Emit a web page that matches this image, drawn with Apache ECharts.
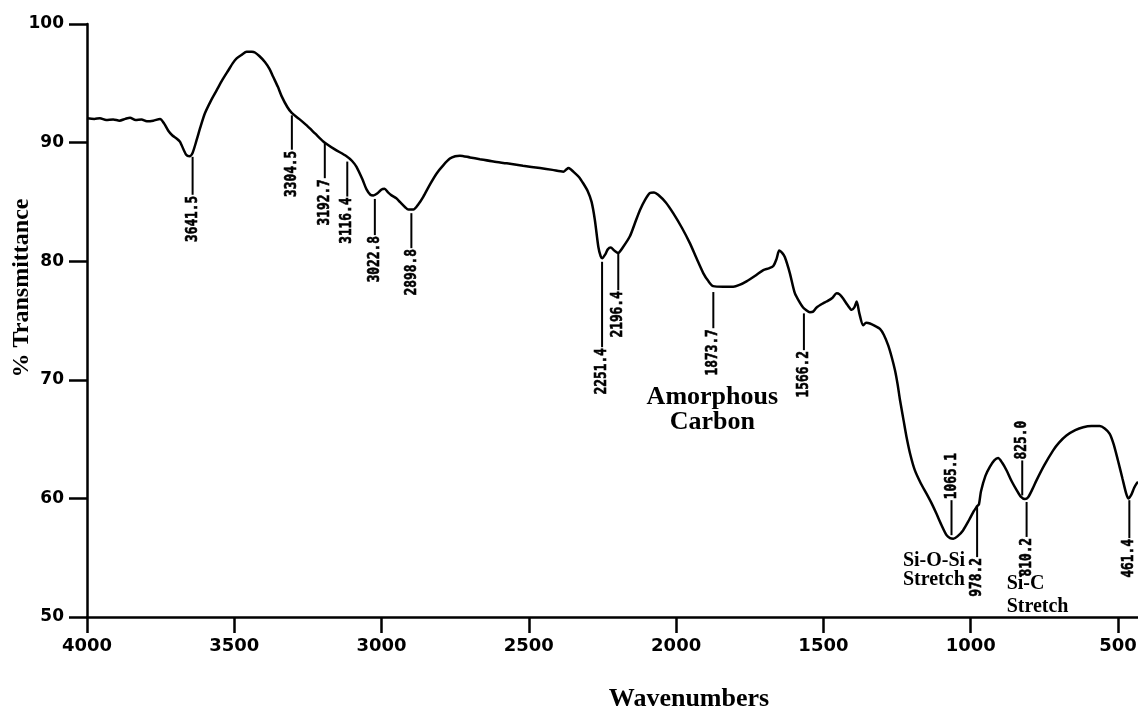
<!DOCTYPE html>
<html>
<head>
<meta charset="utf-8">
<title>FTIR spectrum</title>
<script src="https://cdn.jsdelivr.net/npm/echarts@6/dist/echarts.min.js"></script>
<style>
  html, body { margin: 0; padding: 0; background: #fff; }
  #chart { width: 1138px; height: 715px; }
</style>
</head>
<body>
<div id="chart"></div>
<script>
// Spectrum trace: wavenumber (cm-1) and % transmittance
const wavenumbers = [
  4000, 3975, 3956, 3935, 3911, 3890, 3870, 3854, 3835, 3815, 3797, 3775, 3752, 3738, 3724, 3710,
  3696, 3685, 3679, 3664, 3652, 3642, 3628, 3615, 3600, 3580, 3560, 3540, 3520, 3505, 3492, 3475,
  3458, 3440, 3430, 3415, 3396, 3380, 3368, 3352, 3339, 3320, 3305, 3280, 3254, 3225, 3198, 3160,
  3119, 3100, 3085, 3065, 3051, 3038, 3028, 3015, 3000, 2990, 2978, 2966, 2950, 2938, 2920, 2909,
  2892, 2875, 2858, 2835, 2813, 2790, 2768, 2750, 2734, 2700, 2666, 2620, 2575, 2520, 2462, 2420,
  2383, 2372, 2366, 2358, 2349, 2330, 2315, 2300, 2287, 2276, 2264, 2256, 2251, 2240, 2232, 2222,
  2210, 2197, 2180, 2157, 2140, 2123, 2105, 2089, 2075, 2061, 2035, 2010, 1980, 1953, 1930, 1908,
  1890, 1874, 1840, 1806, 1785, 1761, 1730, 1704, 1685, 1670, 1659, 1650, 1640, 1631, 1614, 1597,
  1580, 1569, 1560, 1546, 1535, 1523, 1501, 1489, 1470, 1455, 1445, 1433, 1418, 1404, 1395, 1387,
  1378, 1365, 1355, 1342, 1325, 1308, 1295, 1280, 1268, 1257, 1248, 1240, 1228, 1218, 1205, 1190,
  1170, 1150, 1133, 1116, 1100, 1082, 1070, 1059, 1045, 1026, 1005, 990, 982, 978, 972, 965,
  950, 935, 920, 907, 893, 878, 860, 844, 830, 816, 805, 790, 777, 750, 720, 700,
  675, 645, 618, 590, 562, 545, 528, 515, 500, 485, 472, 465, 455, 445, 437, 432
];
const transmittance = [
  92.05, 92.0, 92.05, 91.9, 91.95, 91.85, 92.0, 92.1, 91.9, 91.95, 91.8, 91.85, 92.0, 91.6, 91.0, 90.6,
  90.35, 90.1, 89.8, 89.0, 88.85, 89.1, 90.2, 91.3, 92.45, 93.5, 94.4, 95.3, 96.1, 96.7, 97.1, 97.4,
  97.65, 97.65, 97.6, 97.3, 96.8, 96.2, 95.55, 94.7, 93.9, 93.0, 92.5, 92.0, 91.45, 90.75, 90.1, 89.45,
  88.85, 88.45, 87.95, 86.9, 86.05, 85.6, 85.55, 85.7, 86.05, 86.1, 85.8, 85.55, 85.3, 85.0, 84.55, 84.35,
  84.35, 84.8, 85.45, 86.5, 87.4, 88.1, 88.65, 88.85, 88.9, 88.75, 88.6, 88.4, 88.25, 88.05, 87.85, 87.7,
  87.55, 87.75, 87.85, 87.75, 87.55, 87.1, 86.55, 85.9, 85.0, 83.5, 81.2, 80.4, 80.25, 80.6, 81.0, 81.15,
  80.9, 80.7, 81.2, 82.1, 83.2, 84.3, 85.2, 85.75, 85.8, 85.6, 84.95, 84.05, 82.8, 81.5, 80.2, 79.0,
  78.3, 77.9, 77.85, 77.85, 78.0, 78.3, 78.8, 79.25, 79.4, 79.6, 80.2, 80.9, 80.7, 80.35, 79.0, 77.3,
  76.5, 76.1, 75.9, 75.7, 75.75, 76.1, 76.45, 76.6, 76.9, 77.3, 77.2, 76.85, 76.3, 75.9, 76.1, 76.6,
  75.6, 74.6, 74.8, 74.75, 74.55, 74.3, 73.8, 72.9, 71.9, 70.8, 69.6, 68.3, 66.6, 65.2, 63.7, 62.4,
  61.3, 60.4, 59.6, 58.7, 57.8, 56.9, 56.65, 56.6, 56.8, 57.3, 58.2, 58.9, 59.2, 59.35, 59.5, 60.6,
  61.9, 62.65, 63.2, 63.4, 63.0, 62.35, 61.4, 60.7, 60.15, 59.95, 60.1, 60.8, 61.5, 62.8, 64.05, 64.7,
  65.3, 65.75, 66.0, 66.1, 66.1, 65.9, 65.45, 64.6, 63.2, 61.7, 60.4, 60.0, 60.3, 60.9, 61.25, 61.4
];

// Axis ticks
const xTicks = [4000, 3500, 3000, 2500, 2000, 1500, 1000, 500];
const yTicks = [50, 60, 70, 80, 90, 100];

// Picked peaks: position, and the %T span of each marker stick
const peakPositions = [3641.5, 3304.5, 3192.7, 3116.4, 3022.8, 2898.8, 2251.4, 2196.4, 1873.7, 1566.2, 1065.1, 978.2, 825.0, 810.2, 461.4];
const peakStickFrom = [88.8, 92.3, 90.05, 88.4, 85.25, 84.05, 79.95, 80.7, 77.4, 75.6, 56.9, 59.3, 60.25, 59.7, 59.85];
const peakStickTo   = [85.6, 89.4, 87.0, 85.45, 82.2, 81.1, 72.75, 77.55, 74.35, 72.5, 59.85, 55.05, 63.2, 56.75, 56.65];

// Band assignments: text and anchor (wavenumber, %T)
const bandNames = ['Amorphous\nCarbon', 'Si-O-Si\nStretch', 'Si-C\nStretch'];
const bandWavenumber = [1877, 1230, 878];
const bandTransmittance = [67.5, 53.9, 51.85];

const bandStyle = [
  { size: 26, lineHeight: 25, align: 'center' },
  { size: 20, lineHeight: 19, align: 'left' },
  { size: 20, lineHeight: 23, align: 'left' }
];

const chart = echarts.init(document.getElementById('chart'), null, { renderer: 'canvas' });

const axisColor = '#000';
const tickFont = 'DejaVu Sans';

const option = {
  animation: false,
  backgroundColor: '#fff',
  grid: { left: 87, right: 0, top: 24, bottom: 98, containLabel: false, outerBoundsMode: 'none' },
  xAxis: {
    type: 'value',
    min: 432,
    max: 4000,
    inverse: true,
    axisLine: { show: true, onZero: false, lineStyle: { color: axisColor, width: 2.5 } },
    axisTick: { show: true, length: 16, customValues: xTicks, lineStyle: { color: axisColor, width: 2.5 } },
    axisLabel: {
      customValues: xTicks,
      formatter: v => String(v),
      color: '#000', fontSize: 18, fontWeight: 'bold', fontFamily: tickFont, margin: 20
    },
    splitLine: { show: false }
  },
  yAxis: {
    type: 'value',
    min: 50,
    max: 100,
    interval: 10,
    axisLine: { show: true, onZero: false, lineStyle: { color: axisColor, width: 2.5 } },
    axisTick: { show: true, length: 18, customValues: yTicks, lineStyle: { color: axisColor, width: 2.5 } },
    axisLabel: {
      customValues: yTicks,
      color: '#000', fontSize: 17, fontWeight: 'bold', fontFamily: tickFont, margin: 23
    },
    splitLine: { show: false }
  },
  graphic: [
    {
      type: 'text', x: 22, y: 288, rotation: Math.PI / 2,
      style: { text: '% Transmittance', font: 'bold 24px "Liberation Serif"', fill: '#000', align: 'center', verticalAlign: 'middle' }
    },
    {
      type: 'text', x: 689, y: 699,
      style: { text: 'Wavenumbers', font: 'bold 26px "Liberation Serif"', fill: '#000', align: 'center', verticalAlign: 'middle' }
    }
  ],
  series: [
    {
      name: 'spectrum',
      type: 'line',
      data: wavenumbers.map((w, i) => [w, transmittance[i]]),
      symbol: 'none',
      smooth: 0.25,
      lineStyle: { color: '#000', width: 2.5 },
      z: 3
    },
    {
      name: 'peaks',
      type: 'custom',
      clip: false,
      data: peakPositions.map((w, i) => [w, peakStickFrom[i], peakStickTo[i]]),
      encode: { x: 0, y: [1, 2] },
      renderItem(params, api) {
        const w = api.value(0);
        const from = api.value(1);
        const to = api.value(2);
        const p1 = api.coord([w, from]);
        const p2 = api.coord([w, to]);
        const up = to > from;
        return {
          type: 'group',
          children: [
            {
              type: 'line',
              shape: { x1: p1[0], y1: p1[1], x2: p2[0], y2: p2[1] },
              style: { stroke: '#000', lineWidth: 2 }
            },
            {
              type: 'text',
              x: p2[0],
              y: p2[1] + (up ? -1 : 1),
              rotation: Math.PI / 2,
              scaleX: 0.8,
              style: {
                text: w.toFixed(1),
                font: 'bold 16px "DejaVu Sans Mono"',
                fill: '#000',
                stroke: '#000',
                lineWidth: 0.6,
                align: up ? 'left' : 'right',
                verticalAlign: 'middle'
              }
            }
          ]
        };
      },
      z: 4
    },
    {
      name: 'bands',
      type: 'custom',
      clip: false,
      data: bandNames.map((n, i) => [bandWavenumber[i], bandTransmittance[i], i]),
      encode: { x: 0, y: 1 },
      renderItem(params, api) {
        const i = api.value(2);
        const p = api.coord([api.value(0), api.value(1)]);
        const s = bandStyle[i];
        return {
          type: 'text',
          x: p[0],
          y: p[1],
          style: {
            text: bandNames[i],
            font: 'bold ' + s.size + 'px "Liberation Serif"',
            lineHeight: s.lineHeight,
            fill: '#000',
            align: s.align,
            verticalAlign: 'middle'
          }
        };
      },
      z: 5
    }
  ]
};

chart.setOption(option);
</script>
</body>
</html>
